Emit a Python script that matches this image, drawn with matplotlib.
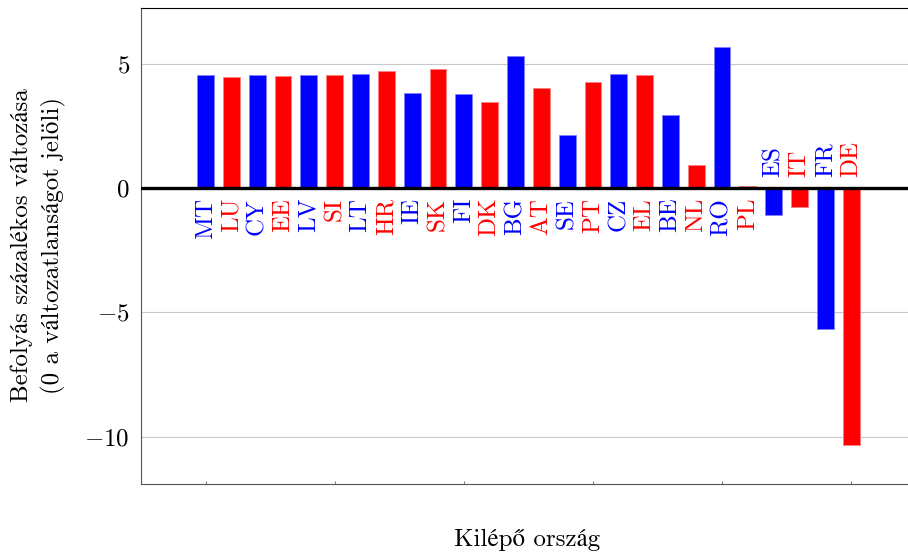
import matplotlib
matplotlib.use('Agg')
import matplotlib.pyplot as plt
import numpy as np

'''Chart data'''
countries = ['MT', 'LU', 'CY', 'EE', 'LV', 'SI', 'LT', 'HR', 'IE', 'SK', 'FI', 'DK', 'BG',
             'AT', 'SE', 'PT', 'CZ', 'EL', 'BE', 'NL', 'RO', 'PL', 'ES', 'IT', 'FR', 'DE']
change = [4.56, 4.45, 4.53, 4.52, 4.54, 4.53, 4.60, 4.69, 3.84, 4.78, 3.79, 3.47, 5.33,
          4.04, 2.15, 4.26, 4.57, 4.56, 2.93, 0.91, 5.67, 0.10, -1.08, -0.77, -5.67, -10.33]
yticks = [-10, -5, 0, 5]
xlabel = 'Kilépő ország'
ylabel = 'Befolyás százalékos változása\n(0 a változatlanságot jelöli)'

plt.rcParams['font.family'] = ['cmr10', 'STIXGeneral', 'DejaVu Serif']
plt.rcParams['mathtext.fontset'] = 'cm'
plt.rcParams['axes.formatter.use_mathtext'] = True
plt.rcParams['font.size'] = 18

fig = plt.figure(figsize=(9.08, 5.54), dpi=100)
ax = fig.add_axes([141/908, 1-484/554, 767/908, 476/554])

x = np.arange(len(countries))
cols = ['#0000ff' if i % 2 == 0 else '#ff0000' for i in range(len(countries))]
edges = ['#8080ff' if i % 2 == 0 else '#ff8080' for i in range(len(countries))]
ax.bar(x, change, width=0.65, color=cols, edgecolor=edges, linewidth=0.6, zorder=3)

# country codes: below the zero line for gains, above it for losses
for i, (c, v) in enumerate(zip(countries, change)):
    if v >= 0:
        ax.annotate(c, (i, 0), xytext=(0, -7), textcoords='offset points', rotation=90,
                    ha='center', va='top', color=cols[i], fontsize=18)
    else:
        ax.annotate(c, (i, 0), xytext=(0, 8), textcoords='offset points', rotation=90,
                    ha='center', va='bottom', color=cols[i], fontsize=18)

ax.axhline(0, color='black', lw=2.4, zorder=4)
ax.set_xlim(-2.5, 27.2)
ax.set_ylim(-11.9, 7.24)
ax.set_yticks(yticks)
ax.yaxis.grid(True, color='#c8c8c8', lw=0.8, zorder=0)
ax.tick_params(axis='y', length=0, pad=8)
ax.set_xticks(np.arange(0, 26, 5))
ax.tick_params(axis='x', direction='in', length=2.5, color='#808080', labelbottom=False)
ax.spines['right'].set_visible(False)
ax.spines['top'].set_color('black')
ax.spines['left'].set_color('#555555')
ax.spines['bottom'].set_color('#555555')

fig.text(527/908, 1-540/554, xlabel, ha='center', va='center', fontsize=18)
fig.text(38/908, 1-245/554, ylabel, ha='center', va='center', rotation=90,
         fontsize=18, linespacing=1.45, multialignment='center')

fig.savefig('out.png', dpi=100)
